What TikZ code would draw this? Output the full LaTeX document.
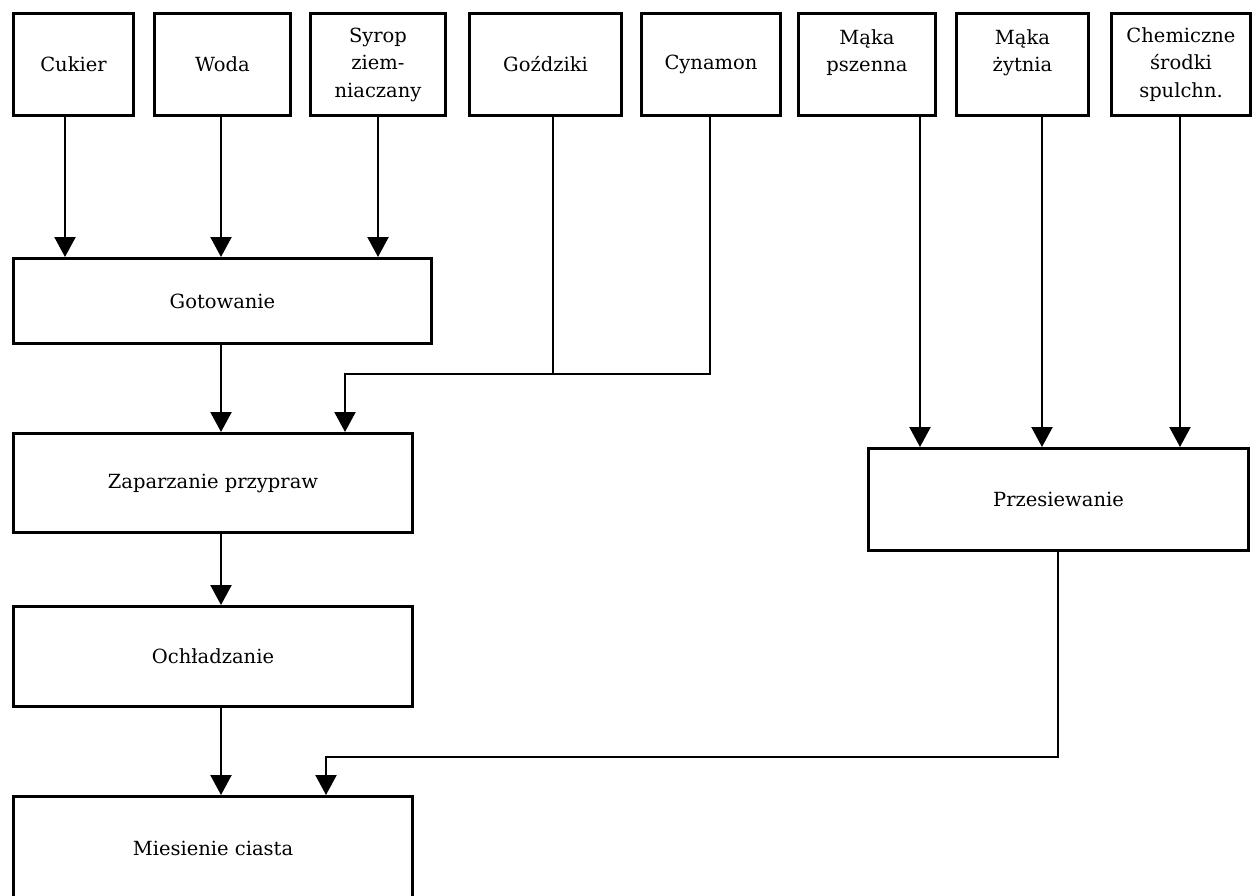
\documentclass[tikz,border=0pt]{standalone}
\usepackage{fontspec}
\setmainfont{DejaVu Serif}
\usetikzlibrary{arrows.meta}
\begin{document}
\begin{tikzpicture}[x=1pt,y=-1pt,
  box/.style={draw,line width=3pt,inner sep=0pt,align=center,font=\fontsize{19.5}{27.5}\selectfont},
  conn/.style={line width=2.2pt},
  arr/.style={conn,-{Triangle[width=21pt,length=20pt]}}]
\useasboundingbox (0,0) rectangle (1256,895);
% top row
\node[box,minimum width=120,minimum height=102] (cuk) at (73.5,64.5) {Cukier};
\node[box,minimum width=136,minimum height=102] (woda) at (222.5,64.5) {Woda};
\node[box,minimum width=135,minimum height=102] (syr) at (378,64.5) {Syrop\\ziem-\\niaczany};
\node[box,minimum width=152,minimum height=102] (goz) at (545.5,64.5) {Goździki};
\node[box,minimum width=139,minimum height=102] (cyn) at (711,64.5) {Cynamon};
\node[box,minimum width=137,minimum height=102] (mpsz) at (867,64.5) {Mąka\\pszenna\\~};
\node[box,minimum width=132,minimum height=102] (mzyt) at (1022.5,64.5) {Mąka\\żytnia\\~};
\node[box,minimum width=139,minimum height=102] (chem) at (1181,64.5) {Chemiczne\\środki\\spulchn.};
% process boxes
\node[box,minimum width=418,minimum height=85] (got) at (222.5,301) {Gotowanie};
\node[box,minimum width=399,minimum height=99] (zap) at (213,483) {Zaparzanie przypraw};
\node[box,minimum width=399,minimum height=100] (och) at (213,656.5) {Ochładzanie};
\node[box,minimum width=399,minimum height=103] (mie) at (213,848) {Miesienie ciasta};
\node[box,minimum width=380,minimum height=102] (prz) at (1058.5,499.5) {Przesiewanie};
% x positions of connectors
\coordinate (c1) at (65,0);
\coordinate (c2) at (221,0);
\coordinate (c3) at (378,0);
\coordinate (c4) at (553,0);
\coordinate (c5) at (710,0);
\coordinate (c6) at (920,0);
\coordinate (c7) at (1042,0);
\coordinate (c8) at (1180,0);
\coordinate (c9) at (345,0);
\coordinate (c10) at (326,0);
\coordinate (c11) at (1058,0);
\coordinate (j1) at (345,374);
\coordinate (j2) at (326,757);
% connectors
\draw[arr] (cuk.south -| c1) -- (got.north -| c1);
\draw[arr] (woda.south -| c2) -- (got.north -| c2);
\draw[arr] (syr.south -| c3) -- (got.north -| c3);
\draw[arr] (got.south -| c2) -- (zap.north -| c2);
\draw[conn] (goz.south -| c4) -- (j1 -| c4);
\draw[arr] (cyn.south -| c5) -- (j1 -| c5) -- (j1) -- (zap.north -| c9);
\draw[arr] (zap.south -| c2) -- (och.north -| c2);
\draw[arr] (och.south -| c2) -- (mie.north -| c2);
\draw[arr] (mpsz.south -| c6) -- (prz.north -| c6);
\draw[arr] (mzyt.south -| c7) -- (prz.north -| c7);
\draw[arr] (chem.south -| c8) -- (prz.north -| c8);
\draw[arr] (prz.south -| c11) -- (j2 -| c11) -- (j2) -- (mie.north -| c10);
\end{tikzpicture}
\end{document}
